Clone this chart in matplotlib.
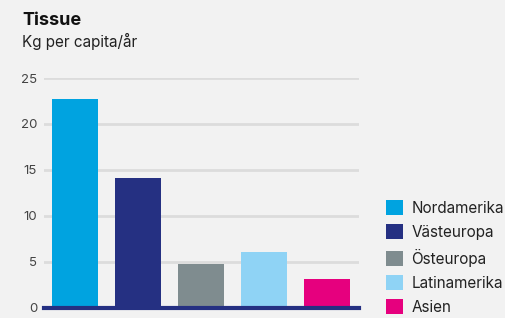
import matplotlib.pyplot as plt
from matplotlib.patches import Patch

regions = ["Nordamerika", "Västeuropa", "Östeuropa", "Latinamerika", "Asien"]
values = [22.7, 14.1, 4.8, 6.1, 3.1]
colors = ["#00a3e0", "#253082", "#7f8c8f", "#8fd3f5", "#e6007e"]
yticks = [0, 5, 10, 15, 20, 25]

plt.rcParams['font.family'] = ['Inter', 'DejaVu Sans']
bg = "#f2f2f2"

fig = plt.figure(figsize=(5.06, 3.18), dpi=100, facecolor=bg)
ax = fig.add_axes([44/506, 1 - 308/318, (359 - 44)/506, (308 - 78)/318], facecolor=bg)

x = range(len(regions))
ax.bar(x, values, width=0.73, color=colors, zorder=2)
ax.set_xlim(-0.49, 4.51)
ax.set_ylim(0, 25)
ax.set_yticks(yticks)
ax.set_xticks([])
ax.yaxis.grid(True, color="#dcdcdc", linewidth=2, zorder=0)
ax.set_axisbelow(True)
for s in ["top", "right", "left"]:
    ax.spines[s].set_visible(False)
ax.spines["bottom"].set_color("#253082")
ax.spines["bottom"].set_linewidth(3)
ax.spines["bottom"].set_zorder(3)
ax.tick_params(axis="y", length=0, pad=5, labelsize=9.5, labelcolor="#444444")

fig.text(22/506, 1 - 25/318, "Tissue", fontsize=13, fontweight="bold", color="#111111")
fig.text(22/506, 1 - 47/318, "Kg per capita/år", fontsize=11, color="#222222")

handles = [Patch(facecolor=c, edgecolor="none") for c in colors]
leg = fig.legend(handles, regions, loc="upper left", bbox_to_anchor=(386/506, 1 - 200/318),
                 frameon=False, fontsize=11, handlelength=1.1, handleheight=1.1,
                 handletextpad=0.55, labelspacing=0.57, borderpad=0, borderaxespad=0)
for t in leg.get_texts():
    t.set_color("#222222")

fig.savefig("out.png", dpi=100, facecolor=bg)
